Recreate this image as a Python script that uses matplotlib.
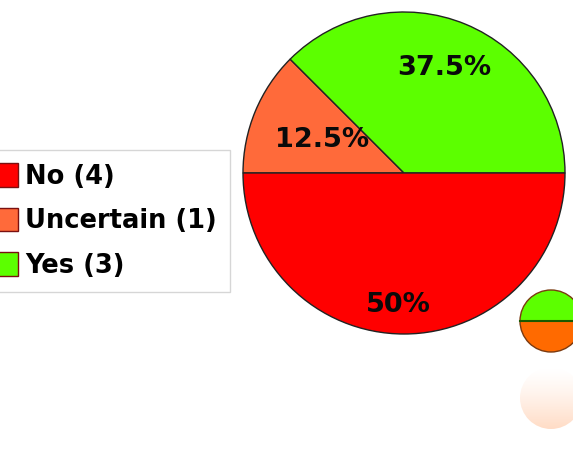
import matplotlib.pyplot as plt
import numpy as np
from matplotlib.patches import Patch, Circle

# survey answers
labels = ["No", "Uncertain", "Yes"]
counts = [4, 1, 3]
colors = ["#ff0000", "#ff6a3a", "#5cff00"]

# small side pie (top / bottom halves)
mini_counts = [1, 1]
mini_colors = ["#5cff00", "#ff6a00"]

fig = plt.figure(figsize=(5.73, 4.53), dpi=100)
ax = fig.add_axes([0, 0, 1, 1])

# main pie: order clockwise from the left edge
order = [1, 2, 0]
vals = [counts[i] for i in order]
cols = [colors[i] for i in order]
total = sum(counts)
# y axis is inverted, so counterclock in data space runs clockwise on screen
ax.pie(vals, colors=cols, center=(404, 173), radius=161,
       startangle=180, counterclock=True,
       wedgeprops=dict(edgecolor="#222222", linewidth=1.0), frame=True)

label_pos = {"No": (398, 305), "Uncertain": (322, 140), "Yes": (444, 68)}
for name, c in zip(labels, counts):
    txt = f"{100 * c / total:g}%"
    x, y = label_pos[name]
    ax.text(x, y, txt, ha="center", va="center", fontsize=19.5,
            fontweight="bold", color="#0a0a0a")

# small pie, partly off the right edge
ax.pie(mini_counts, colors=mini_colors, center=(551, 321), radius=31,
       startangle=0, counterclock=False,
       wedgeprops=dict(edgecolor="#7a3a10", linewidth=1.0), frame=True)
ax.plot([520, 573], [321, 321], color="#1a5a00", lw=1.5)

# faded reflection of the small pie
h, w = 80, 80
grad = np.linspace(0.45, 0.0, h)[:, None] ** 1.3 * np.ones((1, w))
rgba = np.zeros((h, w, 4))
rgba[..., 0] = 1.0
rgba[..., 1] = 0.6
rgba[..., 2] = 0.35
rgba[..., 3] = grad
img = ax.imshow(rgba, extent=(520, 600, 367, 430), origin="upper", zorder=1)
img.set_clip_path(Circle((551, 398), 31, transform=ax.transData))

ax.set_xlim(0, 573)
ax.set_ylim(453, 0)
ax.set_aspect("auto")
ax.axis("off")

handles = [Patch(facecolor=c, edgecolor="#7a1010") for c in colors]
leg_labels = [f"{n} ({c})" for n, c in zip(labels, counts)]
leg = ax.legend(handles, leg_labels, loc="upper right",
                bbox_to_anchor=(230, 150), bbox_transform=ax.transData,
                borderaxespad=0,
                prop=dict(size=18.5, weight="bold"), fancybox=False,
                edgecolor="#cccccc", handlelength=0.9, handleheight=1.05,
                handletextpad=0.3, labelspacing=0.7, borderpad=0.5)
leg.get_frame().set_linewidth(1.0)

fig.savefig("out.png", dpi=100)
